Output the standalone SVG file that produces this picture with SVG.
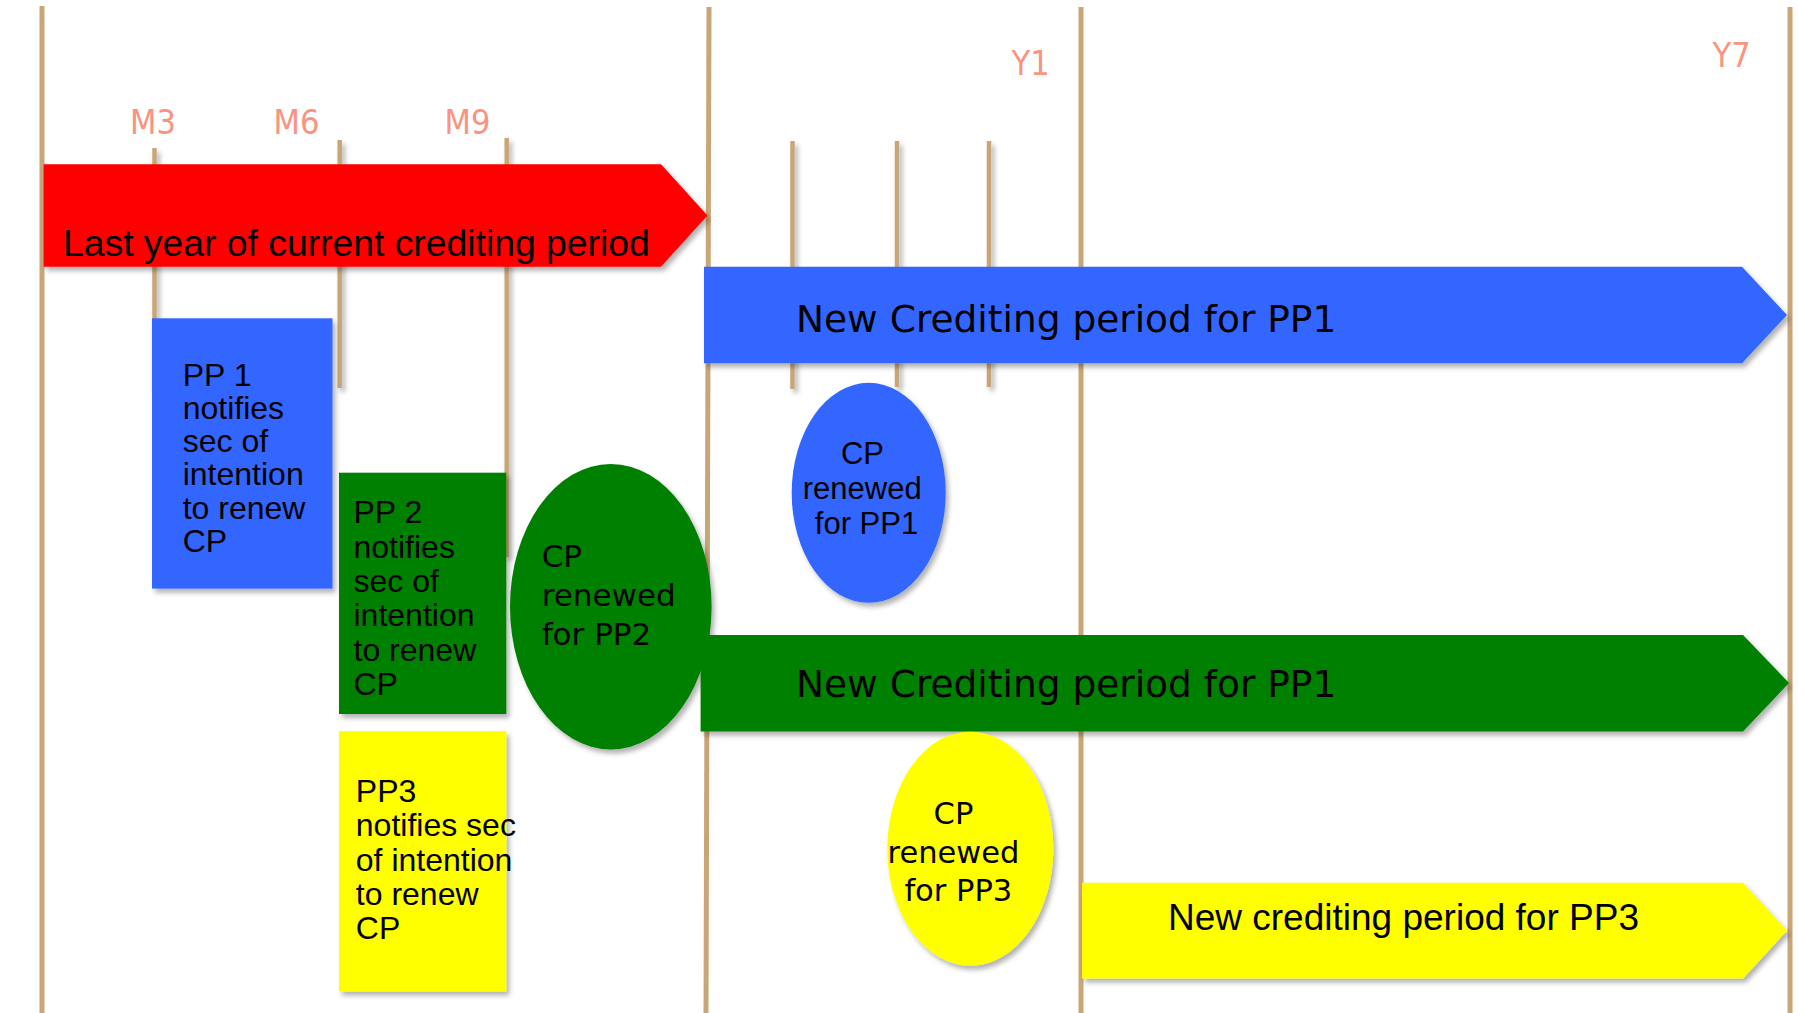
<svg xmlns="http://www.w3.org/2000/svg" width="1798" height="1013" viewBox="0 0 1798 1013">
<defs>
<filter id="sh" x="-10%" y="-10%" width="130%" height="130%">
<feDropShadow dx="3" dy="4" stdDeviation="2.5" flood-color="#000" flood-opacity="0.3"/>
</filter>
<style>
.grid{stroke:#C9A678;stroke-width:5;fill:none}
.tick{stroke:#C9A678;stroke-width:4.5;fill:none}
.lbl{font-family:"DejaVu Sans Condensed","DejaVu Sans",sans-serif;font-stretch:condensed;font-size:34px;fill:#FA9380}
.arial{font-family:"Liberation Sans",Arial,sans-serif;fill:#000}
.dv{font-family:"DejaVu Sans",Verdana,sans-serif;fill:#000}
.red{fill:#FF0000}
.blue{fill:#3366FF}
.green{fill:#008000}
.yellow{fill:#FFFF00}
</style>
</defs>
<rect width="1798" height="1013" fill="#fff"/>

<g id="timeline">
<line class="grid" x1="42" y1="6" x2="42" y2="1013"/>
<line class="grid" x1="709" y1="7" x2="706" y2="1013"/>
<line class="grid" x1="1081" y1="7" x2="1081" y2="1013"/>
<line class="grid" x1="1790" y1="7" x2="1790" y2="1013"/>
<g filter="url(#sh)">
<line class="tick" x1="154.5" y1="148" x2="154.5" y2="390"/>
<line class="tick" x1="339.7" y1="140" x2="339.7" y2="388"/>
<line class="tick" x1="506.7" y1="138" x2="506.7" y2="557"/>
<line class="tick" x1="792.5" y1="141" x2="792.5" y2="389"/>
<line class="tick" x1="897" y1="141" x2="897" y2="387"/>
<line class="tick" x1="989" y1="141" x2="989" y2="387"/>
</g>
</g>

<g id="labels">
<text class="lbl" x="130" y="134">M3</text>
<text class="lbl" x="273.5" y="134">M6</text>
<text class="lbl" x="444.5" y="134">M9</text>
<text class="lbl" x="1011.5" y="75">Y1</text>
<text class="lbl" x="1712.5" y="67">Y7</text>
</g>

<g id="last-year">
<polygon class="red" filter="url(#sh)" points="43.6,164.3 661,164.3 707.5,215.5 661,266.7 43.6,266.7"/>
<text class="arial" x="63" y="256" font-size="37.3">Last year of current crediting period</text>
</g>

<g id="new-cp-pp1-blue">
<polygon class="blue" filter="url(#sh)" points="704,266.7 1742,266.7 1787,315 1742,363.3 704,363.3"/>
<text class="dv" x="796" y="331.7" font-size="37.5">New Crediting period for PP1</text>
</g>

<g id="pp1-notifies">
<rect class="blue" filter="url(#sh)" x="152" y="318.3" width="180.5" height="270.3"/>
<text class="arial" font-size="32">
<tspan x="182.7" y="385.5">PP 1</tspan>
<tspan x="182.7" y="418.8">notifies</tspan>
<tspan x="182.7" y="452.1">sec of</tspan>
<tspan x="182.7" y="485.4">intention</tspan>
<tspan x="182.7" y="518.7">to renew</tspan>
<tspan x="182.7" y="552">CP</tspan>
</text>
</g>

<g id="pp2-notifies">
<rect class="green" filter="url(#sh)" x="339" y="472.7" width="167.3" height="241.3"/>
<text class="arial" font-size="32">
<tspan x="353.5" y="523.3">PP 2</tspan>
<tspan x="353.5" y="557.6">notifies</tspan>
<tspan x="353.5" y="591.9">sec of</tspan>
<tspan x="353.5" y="626.2">intention</tspan>
<tspan x="353.5" y="660.5">to renew</tspan>
<tspan x="353.5" y="694.8">CP</tspan>
</text>
</g>

<g id="pp3-notifies">
<rect class="yellow" filter="url(#sh)" x="339" y="731.2" width="167.3" height="260.2"/>
<text class="arial" font-size="32">
<tspan x="355.8" y="801.9">PP3</tspan>
<tspan x="355.8" y="836.2">notifies sec</tspan>
<tspan x="355.8" y="870.5">of intention</tspan>
<tspan x="355.8" y="904.8">to renew</tspan>
<tspan x="355.8" y="939.1">CP</tspan>
</text>
</g>

<g id="cp-renewed-pp2">
<ellipse class="green" filter="url(#sh)" cx="610.8" cy="606.7" rx="100.8" ry="142.7"/>
<text class="dv" font-size="31">
<tspan x="541.7" y="567.3">CP</tspan>
<tspan x="541.7" y="606.2">renewed</tspan>
<tspan x="541.7" y="644.6">for PP2</tspan>
</text>
</g>

<g id="cp-renewed-pp1">
<ellipse class="blue" filter="url(#sh)" cx="868.7" cy="492.8" rx="77" ry="110"/>
<text class="arial" font-size="31" text-anchor="middle">
<tspan x="866.5" y="463.5">CP</tspan>
<tspan x="866.5" y="498.8">renewed</tspan>
<tspan x="866.5" y="534">for PP1</tspan>
</text>
</g>

<g id="new-cp-pp1-green">
<polygon class="green" filter="url(#sh)" points="700.6,635 1743,635 1789,683 1743,731.5 700.6,731.5"/>
<text class="dv" x="796" y="697.4" font-size="37.5">New Crediting period for PP1</text>
</g>

<g id="cp-renewed-pp3">
<ellipse class="yellow" filter="url(#sh)" cx="970.3" cy="848.7" rx="83" ry="117"/>
<text class="dv" font-size="30.5" text-anchor="middle">
<tspan x="958.3" y="824">CP</tspan>
<tspan x="958.3" y="862.5">renewed</tspan>
<tspan x="958.3" y="900.8">for PP3</tspan>
</text>
</g>

<g id="new-cp-pp3">
<polygon class="yellow" filter="url(#sh)" points="1082,882.7 1743,882.7 1787,930.6 1743,978.5 1082,978.5"/>
<text class="arial" x="1168" y="930" font-size="37">New crediting period for PP3</text>
</g>
</svg>
